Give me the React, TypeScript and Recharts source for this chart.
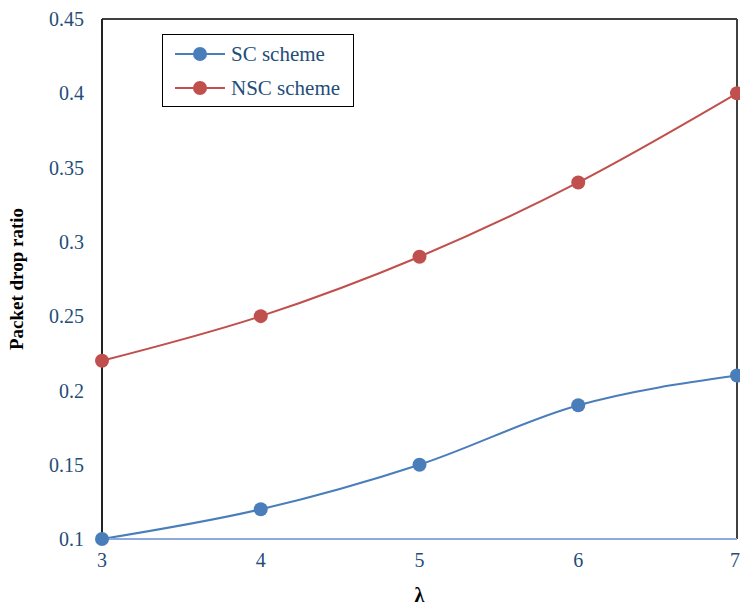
import React from 'react';
import { LineChart, Line, XAxis, YAxis, Legend, ReferenceLine, Label } from 'recharts';

const lambdas = [3, 4, 5, 6, 7];
const scScheme = [0.1, 0.12, 0.15, 0.19, 0.21];
const nscScheme = [0.22, 0.25, 0.29, 0.34, 0.4];
const yTicks = [0.1, 0.15, 0.2, 0.25, 0.3, 0.35, 0.4, 0.45];
const seriesNames = ['SC scheme', 'NSC scheme'];

const data = lambdas.map((l, i) => ({ lambda: l, sc: scScheme[i], nsc: nscScheme[i] }));

const font = '"Liberation Serif", "Times New Roman", serif';
const tickStyle = { fill: '#1F4E79', fontSize: 20, fontFamily: font };

function LegendBox({ payload }: any) {
  const items = [...(payload || [])].sort(
    (a: any, b: any) => seriesNames.indexOf(a.value) - seriesNames.indexOf(b.value)
  );
  return (
    <div style={{ fontFamily: font, fontSize: 21, color: '#1F4E79' }}>
      {items.map((p: any) => (
        <div key={p.value} style={{ display: 'flex', alignItems: 'center', height: 34 }}>
          <svg width={58} height={20} style={{ marginLeft: 10 }}>
            <line x1={2} y1={10} x2={52} y2={10} stroke={p.color} strokeWidth={2} />
            <circle cx={27} cy={10} r={7} fill={p.color} />
          </svg>
          <span>{p.value}</span>
        </div>
      ))}
    </div>
  );
}

export default function App() {
  return (
    <div style={{ position: 'absolute', left: 0, top: 0, background: '#fff' }}>
      <LineChart width={740} height={608} data={data} margin={{ top: 19, right: 3, left: 0, bottom: 0 }}>
        <XAxis
          dataKey="lambda"
          type="number"
          domain={[3, 7]}
          ticks={lambdas}
          height={69}
          tickSize={0}
          tickMargin={14}
          tick={tickStyle}
          axisLine={{ stroke: '#8EAADB', strokeWidth: 2 }}
        >
          <Label value="λ" position="insideBottom" offset={6} style={{ fontFamily: font, fontSize: 20, fontWeight: 'bold', fill: '#000' }} />
        </XAxis>
        <YAxis
          type="number"
          domain={[0.1, 0.45]}
          ticks={yTicks}
          width={102}
          tickSize={0}
          tickMargin={18}
          tick={tickStyle}
          axisLine={{ stroke: '#222', strokeWidth: 2 }}
        >
          <Label
            value="Packet drop ratio"
            angle={-90}
            position="insideLeft"
            offset={16}
            style={{ textAnchor: 'middle', fontFamily: font, fontSize: 19, fontWeight: 'bold', fill: '#000' }}
          />
        </YAxis>
        <ReferenceLine y={0.45} stroke="#404040" strokeWidth={2} />
        <ReferenceLine x={7} stroke="#404040" strokeWidth={2} />
        <Legend
          layout="horizontal"
          verticalAlign="middle"
          align="center"
          content={<LegendBox />}
          wrapperStyle={{ left: 162, top: 34, width: 192, height: 73, border: '1.5px solid #000', boxSizing: 'border-box', paddingTop: 2, background: '#fff' }}
        />
        <Line
          name="SC scheme"
          dataKey="sc"
          type="monotone"
          stroke="#4A7EBB"
          strokeWidth={2}
          dot={{ r: 7, fill: '#4A7EBB', stroke: 'none' }}
          isAnimationActive={false}
        />
        <Line
          name="NSC scheme"
          dataKey="nsc"
          type="monotone"
          stroke="#C0504D"
          strokeWidth={2}
          dot={{ r: 7, fill: '#C0504D', stroke: 'none' }}
          isAnimationActive={false}
        />
      </LineChart>
    </div>
  );
}
